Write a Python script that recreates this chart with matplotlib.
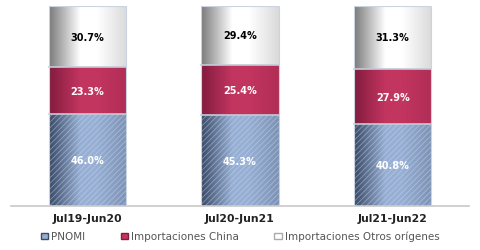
import numpy as np
import matplotlib
matplotlib.use("Agg")
import matplotlib.pyplot as plt
from matplotlib.patches import Rectangle, Patch
from matplotlib.colors import to_rgb

categories = ["Jul19-Jun20", "Jul20-Jun21", "Jul21-Jun22"]
pnomi = [46.0, 45.3, 40.8]
china = [23.3, 25.4, 27.9]
otros = [30.7, 29.4, 31.3]
series_names = ["PNOMI", "Importaciones China", "Importaciones Otros orígenes"]

# (dark edge, light centre, label colour)
styles = [
    ("#3b4b68", "#97afd4", "white"),
    ("#841c40", "#c2355f", "white"),
    ("#7c7c7c", "#ffffff", "black"),
]

plt.rcParams["hatch.linewidth"] = 0.6

fig = plt.figure(figsize=(4.8, 2.51), dpi=100)
ax = fig.add_axes([0.023, 0.175, 0.954, 0.797])

width = 0.505
t = np.linspace(0, 1, 64)
w = np.interp(t, [0, 0.4, 0.62, 1], [0, 1, 1, 0.72])


def gradient(dark, light):
    d, l = np.array(to_rgb(dark)), np.array(to_rgb(light))
    row = d[None, :] * (1 - w[:, None]) + l[None, :] * w[:, None]
    return row[None, :, :]


for i, cat in enumerate(categories):
    bottom = 0
    for k, vals in enumerate([pnomi, china, otros]):
        v = vals[i]
        dark, light, tc = styles[k]
        x0 = i - width / 2
        ax.imshow(gradient(dark, light), extent=(x0, x0 + width, bottom, bottom + v),
                  aspect="auto", interpolation="bilinear", zorder=2)
        if k == 0:
            ax.add_patch(Rectangle((x0, bottom), width, v, facecolor="none",
                                   edgecolor="#d2dff0", hatch="//////", linewidth=0,
                                   alpha=0.45, zorder=3))
        if k > 0:
            ax.plot([x0, x0 + width], [bottom, bottom], color="#c4cbd6", lw=1.2, zorder=3)
        ax.text(i, bottom + v / 2, f"{v:.1f}%", ha="center", va="center",
                color=tc, fontsize=7, fontweight="bold", zorder=4)
        bottom += v
    ax.add_patch(Rectangle((i - width / 2, 0), width, 100, facecolor="none",
                           edgecolor="#c9d3e2", linewidth=0.8, zorder=3))

ax.set_xlim(-0.5, 2.5)
ax.set_ylim(0, 100)
for s in ["top", "right", "left"]:
    ax.spines[s].set_visible(False)
ax.spines["bottom"].set_color("#c8c8c8")
ax.spines["bottom"].set_linewidth(1.2)
ax.set_yticks([])
ax.set_xticks(range(len(categories)))
ax.set_xticklabels(categories, fontsize=7.8, fontweight="bold", color="#222222")
ax.tick_params(axis="x", length=0, pad=5)

handles = [Patch(facecolor=styles[0][1], edgecolor=styles[0][0]),
           Patch(facecolor=styles[1][1], edgecolor=styles[1][0]),
           Patch(facecolor="white", edgecolor="#aaaaaa")]
leg = fig.legend(handles, series_names, loc="center", bbox_to_anchor=(0.5, 0.055),
                 ncol=3, frameon=False, fontsize=7.5, handlelength=0.75, handleheight=0.55,
                 handletextpad=0.25, columnspacing=3.4, labelcolor="#555555")

fig.savefig("out.png", dpi=100)
